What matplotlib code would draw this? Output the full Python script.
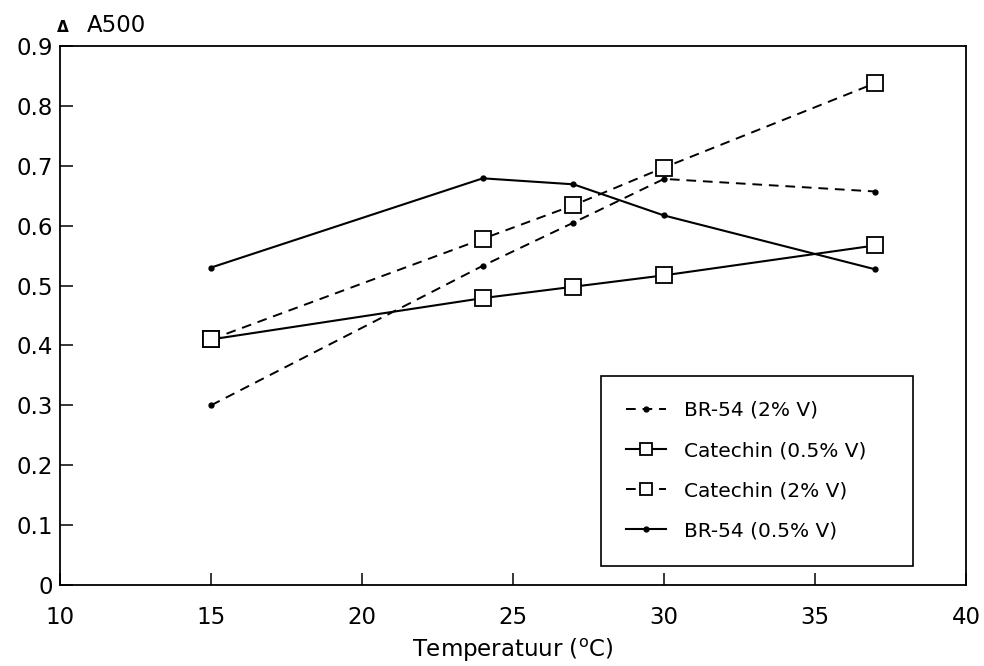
import matplotlib
matplotlib.use("Agg")
import matplotlib.pyplot as plt

plt.rcParams['font.family'] = ['DejaVu Sans']

temps = [15, 24, 27, 30, 37]
br54_2 = [0.30, 0.533, 0.605, 0.678, 0.657]
catechin_05 = [0.41, 0.479, 0.498, 0.517, 0.567]
catechin_2 = [0.41, 0.578, 0.634, 0.697, 0.838]
br54_05 = [0.53, 0.679, 0.669, 0.617, 0.527]

x_ticks = [10, 15, 20, 25, 30, 35, 40]
y_ticks = [0, 0.1, 0.2, 0.3, 0.4, 0.5, 0.6, 0.7, 0.8, 0.9]
y_labels = ['0', '0.1', '0.2', '0.3', '0.4', '0.5', '0.6', '0.7', '0.8', '0.9']

fig = plt.figure(figsize=(9.84, 6.66), dpi=100)
ax = fig.add_axes([0.061, 0.1216, 0.9207, 0.8094])

dash = (0, (5, 3.5))
sq = dict(marker='s', markersize=11, markerfacecolor='white',
          markeredgecolor='black', markeredgewidth=1.3)
dot = dict(marker='o', markersize=3.5, markerfacecolor='black',
           markeredgecolor='black')

ax.plot(temps, br54_2, color='black', lw=1.4, linestyle=dash,
        label='BR-54 (2% V)', **dot)
ax.plot(temps, catechin_05, color='black', lw=1.5, linestyle='-',
        label='Catechin (0.5% V)', **sq)
ax.plot(temps, catechin_2, color='black', lw=1.4, linestyle=dash,
        label='Catechin (2% V)', **sq)
ax.plot(temps, br54_05, color='black', lw=1.5, linestyle='-',
        label='BR-54 (0.5% V)', **dot)

ax.set_xlim(10, 40)
ax.set_ylim(0, 0.9)
ax.set_xticks(x_ticks)
ax.set_yticks(y_ticks)
ax.set_yticklabels(y_labels)
ax.tick_params(direction='in', length=9, width=1.1, labelsize=16.5,
               colors='black')
ax.tick_params(axis='x', pad=15)
ax.tick_params(axis='y', pad=5)
for s in ax.spines.values():
    s.set_linewidth(1.3)

ax.set_xlabel('Temperatuur ($^{\\mathrm{o}}$C)', fontsize=16.5, labelpad=6)

fig.text(0.058, 0.952, '\u0394', fontsize=11, fontweight='bold',
         ha='left', va='baseline')
fig.text(0.088, 0.952, 'A500', fontsize=16.5, ha='left', va='baseline')

leg = ax.legend(loc='lower left', bbox_to_anchor=(0.597, 0.036, 0.345, 0.338),
                mode='expand', fontsize=14.5, handlelength=2.0,
                handletextpad=0.9, labelspacing=1.05, borderpad=1.25,
                fancybox=False, framealpha=1, edgecolor='black',
                borderaxespad=0)
leg.get_frame().set_linewidth(1.2)
for h in leg.legend_handles:
    if h.get_marker() == 's':
        h.set_markersize(9)

fig.savefig('out.png', dpi=100, facecolor='white')
